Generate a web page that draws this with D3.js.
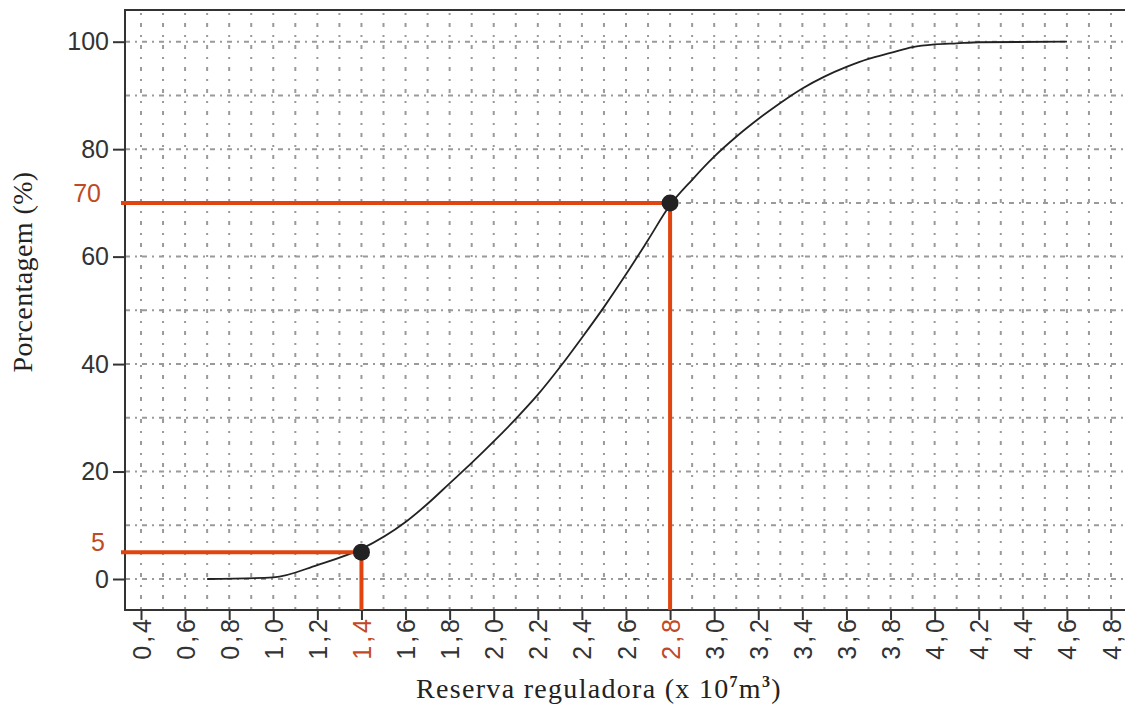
<!DOCTYPE html>
<html>
<head>
<meta charset="utf-8">
<script src="https://cdn.jsdelivr.net/npm/d3@7"></script>
<style>
  html, body { margin: 0; padding: 0; background: #fff; }
  svg { display: block; }
</style>
</head>
<body>
<svg id="chart" width="1125" height="709"></svg>
<script>
// Cumulative curve: percentage vs regulating storage (x 10^7 m3)
const curveX = [0.7, 1.0, 1.2, 1.4, 1.6, 1.7, 1.8, 1.9, 2.0, 2.1, 2.2, 2.3, 2.4, 2.5, 2.6, 2.7, 2.8,
                2.9, 3.0, 3.1, 3.2, 3.3, 3.4, 3.5, 3.6, 3.7, 3.8, 3.9, 4.0, 4.1, 4.2, 4.6];
const curveY = [0, 0.3, 2.6, 5.6, 10.6, 14.0, 17.8, 21.6, 25.6, 29.8, 34.3, 39.4, 44.9, 50.6, 56.7, 63.1, 69.6,
                74.3, 78.6, 82.3, 85.6, 88.6, 91.3, 93.5, 95.3, 96.8, 97.9, 99.0, 99.5, 99.7, 99.9, 100];

// Highlighted readings on the curve
const markX = [1.4, 2.8];
const markY = [5, 70];

// Axis ticks
const xTicks = [0.4, 0.6, 0.8, 1.0, 1.2, 1.4, 1.6, 1.8, 2.0, 2.2, 2.4, 2.6, 2.8,
                3.0, 3.2, 3.4, 3.6, 3.8, 4.0, 4.2, 4.4, 4.6, 4.8];
const yTicks = [0, 20, 40, 60, 80, 100];
const xGrid = d3.range(4, 49).map(d => d / 10);
const yGrid = d3.range(0, 101, 10);

const red = "#e2440f";
const rust = "#c04a26";

const svg = d3.select("#chart");
const frame = { left: 125, top: 10, right: 1140, bottom: 610 };

const x = d3.scaleLinear().domain([0.4, 4.8]).range([141, 1111]);
const y = d3.scaleLinear().domain([0, 100]).range([579, 41.7]);

svg.append("rect").attr("width", 1125).attr("height", 709).attr("fill", "#fff");

// Grid
const grid = svg.append("g");
grid.selectAll("line.v").data(xGrid).join("line")
  .attr("class", "v")
  .attr("x1", d => x(d)).attr("x2", d => x(d))
  .attr("y1", frame.top + 3).attr("y2", frame.bottom)
  .attr("stroke", "#9a9a9a").attr("stroke-width", 2)
  .attr("stroke-dasharray", "2,8,4,8");
grid.selectAll("line.h").data(yGrid).join("line")
  .attr("class", "h")
  .attr("x1", frame.left).attr("x2", 1125)
  .attr("y1", d => y(d)).attr("y2", d => y(d))
  .attr("stroke", "#9a9a9a").attr("stroke-width", 2)
  .attr("stroke-dasharray", "5,5,2,5");

// Frame (top, left, bottom)
svg.append("path")
  .attr("d", `M${frame.right},${frame.top}H${frame.left}V${frame.bottom}H${frame.right}`)
  .attr("fill", "none").attr("stroke", "#333").attr("stroke-width", 2);

// Y axis
const yAxis = svg.append("g")
  .attr("transform", `translate(${frame.left},0)`)
  .call(d3.axisLeft(y).tickValues(yTicks).tickSize(12).tickPadding(4));
yAxis.select(".domain").remove();
yAxis.selectAll(".tick line").attr("stroke", "#333").attr("stroke-width", 2);
yAxis.selectAll(".tick text")
  .attr("fill", "#333")
  .style("font-family", "'Liberation Sans', Arial, sans-serif")
  .style("font-size", "25px");

// X axis
const fmt = d3.formatLocale({ decimal: ",", thousands: ".", grouping: [3], currency: ["", ""] }).format(".1f");
const xAxis = svg.append("g")
  .attr("transform", `translate(0,${frame.bottom})`)
  .call(d3.axisBottom(x).tickValues(xTicks).tickSize(10).tickFormat(fmt));
xAxis.select(".domain").remove();
xAxis.selectAll(".tick line").attr("stroke", "#333").attr("stroke-width", 2);
xAxis.selectAll(".tick text")
  .attr("transform", "rotate(-90)")
  .attr("x", -6).attr("y", 0).attr("dy", "0.36em")
  .style("text-anchor", "end")
  .attr("fill", d => markX.includes(d) ? rust : "#333")
  .style("font-family", "'Liberation Sans', Arial, sans-serif")
  .style("font-size", "25px")
  .style("letter-spacing", "3px");

// Curve
const line = d3.line().x((d, i) => x(curveX[i])).y(d => y(d)).curve(d3.curveMonotoneX);
svg.append("path")
  .attr("d", line(curveY))
  .attr("fill", "none").attr("stroke", "#222").attr("stroke-width", 1.8);

// Guide lines to the highlighted readings
const guides = svg.append("g");
markX.forEach((mx, i) => {
  const my = markY[i];
  guides.append("line")
    .attr("x1", 121).attr("x2", x(mx))
    .attr("y1", y(my)).attr("y2", y(my))
    .attr("stroke", red).attr("stroke-width", 4);
  guides.append("line")
    .attr("x1", x(mx)).attr("x2", x(mx))
    .attr("y1", y(my)).attr("y2", frame.bottom)
    .attr("stroke", red).attr("stroke-width", 4);
});
svg.selectAll("circle.mark").data(markX).join("circle")
  .attr("class", "mark")
  .attr("cx", d => x(d)).attr("cy", (d, i) => y(markY[i]))
  .attr("r", 8.5).attr("fill", "#222");

// Red value labels on the y side
svg.selectAll("text.mlab").data(markY).join("text")
  .attr("class", "mlab")
  .attr("x", d => d >= 10 ? 101 : 105)
  .attr("y", d => y(d) - 1)
  .attr("text-anchor", "end")
  .attr("fill", rust)
  .style("font-family", "'Liberation Sans', Arial, sans-serif")
  .style("font-size", "25px")
  .text(d => d);

// Axis titles
svg.append("text")
  .attr("transform", "translate(32,272) rotate(-90)")
  .attr("text-anchor", "middle")
  .attr("fill", "#222")
  .style("font-family", "'Liberation Serif', 'Times New Roman', serif")
  .style("font-size", "28px")
  .style("letter-spacing", "0.4px")
  .text("Porcentagem (%)");

const xt = svg.append("text")
  .attr("x", 599).attr("y", 698)
  .attr("text-anchor", "middle")
  .attr("fill", "#222")
  .style("font-family", "'Liberation Serif', 'Times New Roman', serif")
  .style("font-size", "28px")
  .style("letter-spacing", "1.3px");
xt.append("tspan").text("Reserva reguladora (x 10");
xt.append("tspan").attr("dy", -11).style("font-size", "16px").style("font-weight", "bold").text("7");
xt.append("tspan").attr("dy", 11).text("m");
xt.append("tspan").attr("dy", -11).style("font-size", "16px").style("font-weight", "bold").text("3");
xt.append("tspan").attr("dy", 11).text(")");
</script>
</body>
</html>
